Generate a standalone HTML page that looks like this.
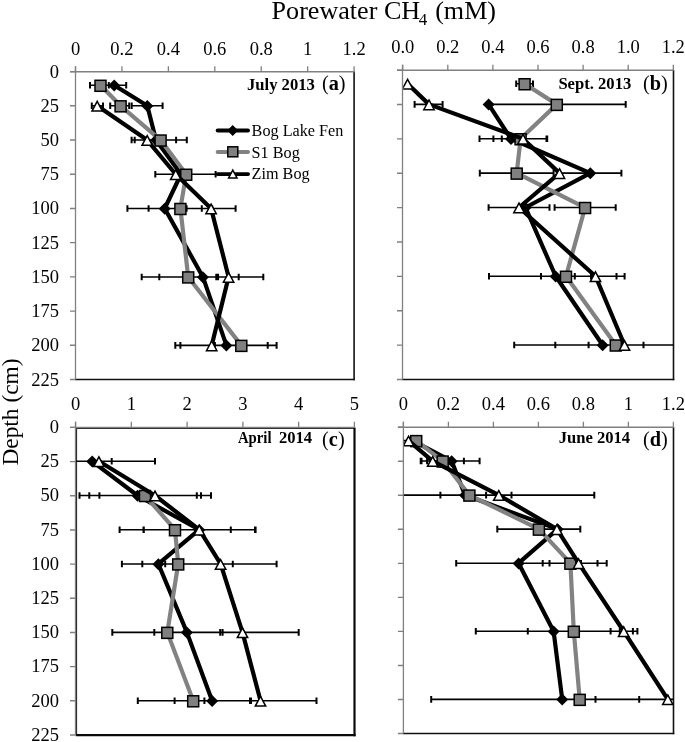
<!DOCTYPE html><html><head><meta charset="utf-8"><style>html,body{margin:0;padding:0;background:#fff;width:685px;height:742px;overflow:hidden}svg{display:block;will-change:transform}text{font-family:'Liberation Serif', serif;fill:#000}</style></head><body>
<svg width="685" height="742" viewBox="0 0 685 742">
<rect width="685" height="742" fill="#fff"/>
<defs>
<clipPath id="cla"><rect x="76" y="72.1" width="278.1" height="307.5"/></clipPath>
<clipPath id="clb"><rect x="403.2" y="70.5" width="270.1" height="308.9"/></clipPath>
<clipPath id="clc"><rect x="76.1" y="427.6" width="278.3" height="307.4"/></clipPath>
<clipPath id="cld"><rect x="403.9" y="427.5" width="269.5" height="305.9"/></clipPath>
</defs>
<text x="271.6" y="19" font-size="26.1">Porewater CH<tspan font-size="17" dy="5.5" dx="-1.3">4</tspan><tspan dy="-5.5" dx="1.3"> (mM)</tspan></text>
<text transform="translate(17.6 465.6) rotate(-90)" font-size="23.4">Depth (cm)</text>
<path d="M354.1 71.6V380.3" stroke="#111" stroke-width="1.6" fill="none"/>
<path d="M75 379.5H354.9" stroke="#111" stroke-width="1.7" fill="none"/>
<path d="M70 71.75H354.4" stroke="#808080" stroke-width="1.5" fill="none"/>
<path d="M75.5 66.25V379.6" stroke="#808080" stroke-width="1.3" fill="none"/>
<path d="M75.5 66.25V71.75M121.93 66.25V71.75M168.37 66.25V71.75M214.8 66.25V71.75M261.23 66.25V71.75M307.67 66.25V71.75M354.1 66.25V71.75" stroke="#808080" stroke-width="1.3" fill="none"/>
<path d="M70 71.6H75.5M70 105.81H75.5M70 140.02H75.5M70 174.23H75.5M70 208.44H75.5M70 242.66H75.5M70 276.87H75.5M70 311.08H75.5M70 345.29H75.5M70 379.5H75.5" stroke="#808080" stroke-width="1.4" fill="none"/>
<text x="75.5" y="54.6" font-size="18.5" text-anchor="middle">0</text>
<text x="121.93" y="54.6" font-size="18.5" text-anchor="middle">0.2</text>
<text x="168.37" y="54.6" font-size="18.5" text-anchor="middle">0.4</text>
<text x="214.8" y="54.6" font-size="18.5" text-anchor="middle">0.6</text>
<text x="261.23" y="54.6" font-size="18.5" text-anchor="middle">0.8</text>
<text x="307.67" y="54.6" font-size="18.5" text-anchor="middle">1</text>
<text x="354.1" y="54.6" font-size="18.5" text-anchor="middle">1.2</text>
<text x="59.1" y="77.5" font-size="18.5" text-anchor="end">0</text>
<text x="59.1" y="111.72" font-size="18.5" text-anchor="end">25</text>
<text x="59.1" y="145.94" font-size="18.5" text-anchor="end">50</text>
<text x="59.1" y="180.17" font-size="18.5" text-anchor="end">75</text>
<text x="59.1" y="214.39" font-size="18.5" text-anchor="end">100</text>
<text x="59.1" y="248.61" font-size="18.5" text-anchor="end">125</text>
<text x="59.1" y="282.83" font-size="18.5" text-anchor="end">150</text>
<text x="59.1" y="317.06" font-size="18.5" text-anchor="end">175</text>
<text x="59.1" y="351.28" font-size="18.5" text-anchor="end">200</text>
<text x="59.1" y="385.5" font-size="18.5" text-anchor="end">225</text>
<text x="247" y="90" font-size="16.6" font-weight="bold">July 2013</text>
<text x="321.9" y="89.6" font-size="20.3">(<tspan font-weight="bold">a</tspan>)</text>
<g clip-path="url(#cla)">
<path d="M102 85.29H126.2M131.7 105.82H162.6M131.6 140.04H176.1M127.4 208.49H201.8M141.7 276.93H263.3M175.3 345.38H276.6M90 85.29H108.8M110.2 105.82H129.2M134.7 140.04H186.8M155.3 174.27H215.6M148.6 208.49H212.2M159.3 276.93H218.1M214.9 345.38H267.7M91.8 105.82H103M186.6 208.49H235.6M216.3 276.93H238.7M180.4 345.38H243" stroke="#000" stroke-width="1.6" fill="none"/>
<path d="M102 81.99V88.59M126.2 81.99V88.59M131.7 102.52V109.12M162.6 102.52V109.12M131.6 136.74V143.34M176.1 136.74V143.34M127.4 205.19V211.79M201.8 205.19V211.79M141.7 273.63V280.23M263.3 273.63V280.23M175.3 342.08V348.68M276.6 342.08V348.68M90 81.99V88.59M108.8 81.99V88.59M110.2 102.52V109.12M129.2 102.52V109.12M134.7 136.74V143.34M186.8 136.74V143.34M155.3 170.97V177.57M215.6 170.97V177.57M148.6 205.19V211.79M212.2 205.19V211.79M159.3 273.63V280.23M218.1 273.63V280.23M214.9 342.08V348.68M267.7 342.08V348.68M91.8 102.52V109.12M103 102.52V109.12M186.6 205.19V211.79M235.6 205.19V211.79M216.3 273.63V280.23M238.7 273.63V280.23M180.4 342.08V348.68M243 342.08V348.68" stroke="#000" stroke-width="2.0" fill="none"/>
<polyline points="114.2,85.29 147.3,105.82 156,140.04 181,174.27 164.7,208.49 202.9,276.93 226.4,345.38" fill="none" stroke="#000" stroke-width="4.2" stroke-linejoin="round"/>
<path d="M114.2 79.49L120.2 85.49L114.2 91.49L108.2 85.49Z" fill="#000"/>
<path d="M147.3 100.02L153.3 106.02L147.3 112.02L141.3 106.02Z" fill="#000"/>
<path d="M156 134.24L162 140.24L156 146.24L150 140.24Z" fill="#000"/>
<path d="M181 168.47L187 174.47L181 180.47L175 174.47Z" fill="#000"/>
<path d="M164.7 202.69L170.7 208.69L164.7 214.69L158.7 208.69Z" fill="#000"/>
<path d="M202.9 271.13L208.9 277.13L202.9 283.13L196.9 277.13Z" fill="#000"/>
<path d="M226.4 339.58L232.4 345.58L226.4 351.58L220.4 345.58Z" fill="#000"/>
<polyline points="100.5,85.29 120.6,105.82 160.6,140.04 186.2,174.27 180.4,208.49 188.2,276.93 241.3,345.38" fill="none" stroke="#828282" stroke-width="4.2" stroke-linejoin="round"/>
<rect x="95" y="80.29" width="11" height="11" fill="#808080" stroke="#000" stroke-width="1.5"/>
<rect x="115.1" y="100.82" width="11" height="11" fill="#808080" stroke="#000" stroke-width="1.5"/>
<rect x="155.1" y="135.04" width="11" height="11" fill="#808080" stroke="#000" stroke-width="1.5"/>
<rect x="180.7" y="169.27" width="11" height="11" fill="#808080" stroke="#000" stroke-width="1.5"/>
<rect x="174.9" y="203.49" width="11" height="11" fill="#808080" stroke="#000" stroke-width="1.5"/>
<rect x="182.7" y="271.93" width="11" height="11" fill="#808080" stroke="#000" stroke-width="1.5"/>
<rect x="235.8" y="340.38" width="11" height="11" fill="#808080" stroke="#000" stroke-width="1.5"/>
<polyline points="97.2,105.82 147.2,140.04 175.7,174.27 211.1,208.49 228.6,276.93 211.7,345.38" fill="none" stroke="#000" stroke-width="4.2" stroke-linejoin="round"/>
<path d="M97.2 101.42L102.4 111.07L92 111.07Z" fill="#fff" stroke="#000" stroke-width="1.5" stroke-linejoin="miter" stroke-miterlimit="10"/>
<path d="M147.2 135.64L152.4 145.29L142 145.29Z" fill="#fff" stroke="#000" stroke-width="1.5" stroke-linejoin="miter" stroke-miterlimit="10"/>
<path d="M175.7 169.87L180.9 179.52L170.5 179.52Z" fill="#fff" stroke="#000" stroke-width="1.5" stroke-linejoin="miter" stroke-miterlimit="10"/>
<path d="M211.1 204.09L216.3 213.74L205.9 213.74Z" fill="#fff" stroke="#000" stroke-width="1.5" stroke-linejoin="miter" stroke-miterlimit="10"/>
<path d="M228.6 272.53L233.8 282.18L223.4 282.18Z" fill="#fff" stroke="#000" stroke-width="1.5" stroke-linejoin="miter" stroke-miterlimit="10"/>
<path d="M211.7 340.98L216.9 350.63L206.5 350.63Z" fill="#fff" stroke="#000" stroke-width="1.5" stroke-linejoin="miter" stroke-miterlimit="10"/>
</g>
<path d="M673.5 70V380.3" stroke="#111" stroke-width="1.6" fill="none"/>
<path d="M402 379.5H674.3" stroke="#111" stroke-width="1.7" fill="none"/>
<path d="M397 70.25H673.6" stroke="#808080" stroke-width="1.5" fill="none"/>
<path d="M402.5 64.75V379.4" stroke="#808080" stroke-width="1.3" fill="none"/>
<path d="M402.7 64.75V70.25M447.8 64.75V70.25M492.9 64.75V70.25M538 64.75V70.25M583.1 64.75V70.25M628.2 64.75V70.25M673.3 64.75V70.25" stroke="#808080" stroke-width="1.3" fill="none"/>
<path d="M397 70.1H402.5M397 104.48H402.5M397 138.86H402.5M397 173.23H402.5M397 207.61H402.5M397 241.99H402.5M397 276.37H402.5M397 310.74H402.5M397 345.12H402.5M397 379.5H402.5" stroke="#808080" stroke-width="1.4" fill="none"/>
<text x="402.7" y="53.3" font-size="18.5" text-anchor="middle">0.0</text>
<text x="447.8" y="53.3" font-size="18.5" text-anchor="middle">0.2</text>
<text x="492.9" y="53.3" font-size="18.5" text-anchor="middle">0.4</text>
<text x="538" y="53.3" font-size="18.5" text-anchor="middle">0.6</text>
<text x="583.1" y="53.3" font-size="18.5" text-anchor="middle">0.8</text>
<text x="628.2" y="53.3" font-size="18.5" text-anchor="middle">1.0</text>
<text x="673.3" y="53.3" font-size="18.5" text-anchor="middle">1.2</text>
<text x="558.4" y="88.5" font-size="16.6" font-weight="bold">Sept. 2013</text>
<text x="642.9" y="89.7" font-size="20.3">(<tspan font-weight="bold">b</tspan>)</text>
<g clip-path="url(#clb)">
<path d="M479.5 138.76H546.5M559.2 173.13H621.4M489 276.27H624.6M514.2 345.02H691M516.2 83.75H533M487.9 104.38H625.7M493.4 138.76H547.2M479.8 173.13H553.6M554.6 207.51H615.7M541 276.27H591M588.6 345.02H643.5M414.6 104.38H442.6M501.8 138.76H547M488.6 207.51H549.5M574.8 276.27H616.5M555.3 345.02H693.7" stroke="#000" stroke-width="1.6" fill="none"/>
<path d="M479.5 135.46V142.06M546.5 135.46V142.06M559.2 169.83V176.43M621.4 169.83V176.43M489 272.97V279.57M624.6 272.97V279.57M514.2 341.72V348.32M691 341.72V348.32M516.2 80.45V87.05M533 80.45V87.05M487.9 101.08V107.68M625.7 101.08V107.68M493.4 135.46V142.06M547.2 135.46V142.06M479.8 169.83V176.43M553.6 169.83V176.43M554.6 204.21V210.81M615.7 204.21V210.81M541 272.97V279.57M591 272.97V279.57M588.6 341.72V348.32M643.5 341.72V348.32M414.6 101.08V107.68M442.6 101.08V107.68M501.8 135.46V142.06M547 135.46V142.06M488.6 204.21V210.81M549.5 204.21V210.81M574.8 272.97V279.57M616.5 272.97V279.57M555.3 341.72V348.32M693.7 341.72V348.32" stroke="#000" stroke-width="2.0" fill="none"/>
<polyline points="488.6,104.38 511,138.76 590.3,173.13 525.5,207.51 555.7,276.27 602.6,345.02" fill="none" stroke="#000" stroke-width="4.2" stroke-linejoin="round"/>
<path d="M488.6 98.58L494.6 104.58L488.6 110.58L482.6 104.58Z" fill="#000"/>
<path d="M511 132.96L517 138.96L511 144.96L505 138.96Z" fill="#000"/>
<path d="M590.3 167.33L596.3 173.33L590.3 179.33L584.3 173.33Z" fill="#000"/>
<path d="M525.5 201.71L531.5 207.71L525.5 213.71L519.5 207.71Z" fill="#000"/>
<path d="M555.7 270.47L561.7 276.47L555.7 282.47L549.7 276.47Z" fill="#000"/>
<path d="M602.6 339.22L608.6 345.22L602.6 351.22L596.6 345.22Z" fill="#000"/>
<polyline points="524.6,83.75 556.8,104.38 520.6,138.76 516.7,173.13 585.1,207.51 566,276.27 615.8,345.02" fill="none" stroke="#828282" stroke-width="4.2" stroke-linejoin="round"/>
<rect x="519.1" y="78.75" width="11" height="11" fill="#808080" stroke="#000" stroke-width="1.5"/>
<rect x="551.3" y="99.38" width="11" height="11" fill="#808080" stroke="#000" stroke-width="1.5"/>
<rect x="515.1" y="133.76" width="11" height="11" fill="#808080" stroke="#000" stroke-width="1.5"/>
<rect x="511.2" y="168.13" width="11" height="11" fill="#808080" stroke="#000" stroke-width="1.5"/>
<rect x="579.6" y="202.51" width="11" height="11" fill="#808080" stroke="#000" stroke-width="1.5"/>
<rect x="560.5" y="271.27" width="11" height="11" fill="#808080" stroke="#000" stroke-width="1.5"/>
<rect x="610.3" y="340.02" width="11" height="11" fill="#808080" stroke="#000" stroke-width="1.5"/>
<polyline points="407.6,83.75 429,104.38 523,138.76 559.5,173.13 519,207.51 595.5,276.27 624.5,345.02" fill="none" stroke="#000" stroke-width="4.2" stroke-linejoin="round"/>
<path d="M407.6 79.35L412.8 89L402.4 89Z" fill="#fff" stroke="#000" stroke-width="1.5" stroke-linejoin="miter" stroke-miterlimit="10"/>
<path d="M429 99.98L434.2 109.63L423.8 109.63Z" fill="#fff" stroke="#000" stroke-width="1.5" stroke-linejoin="miter" stroke-miterlimit="10"/>
<path d="M523 134.36L528.2 144.01L517.8 144.01Z" fill="#fff" stroke="#000" stroke-width="1.5" stroke-linejoin="miter" stroke-miterlimit="10"/>
<path d="M559.5 168.73L564.7 178.38L554.3 178.38Z" fill="#fff" stroke="#000" stroke-width="1.5" stroke-linejoin="miter" stroke-miterlimit="10"/>
<path d="M519 203.11L524.2 212.76L513.8 212.76Z" fill="#fff" stroke="#000" stroke-width="1.5" stroke-linejoin="miter" stroke-miterlimit="10"/>
<path d="M595.5 271.87L600.7 281.52L590.3 281.52Z" fill="#fff" stroke="#000" stroke-width="1.5" stroke-linejoin="miter" stroke-miterlimit="10"/>
<path d="M624.5 340.62L629.7 350.27L619.3 350.27Z" fill="#fff" stroke="#000" stroke-width="1.5" stroke-linejoin="miter" stroke-miterlimit="10"/>
</g>
<path d="M76.5 427.5V736" stroke="#222" stroke-width="1.2" fill="none"/>
<path d="M76 428.5H355" stroke="#333" stroke-width="1.1" fill="none"/>
<path d="M354.5 427.5V736.3" stroke="#0a0a0a" stroke-width="2.2" fill="none"/>
<path d="M75.8 735.2H355.6" stroke="#0a0a0a" stroke-width="2.2" fill="none"/>
<path d="M70 427.3H354.7" stroke="#808080" stroke-width="1.3" fill="none"/>
<path d="M75.5 421.8V735" stroke="#808080" stroke-width="1.3" fill="none"/>
<path d="M75.6 421.8V427.3M131.36 421.8V427.3M187.12 421.8V427.3M242.88 421.8V427.3M298.64 421.8V427.3M354.4 421.8V427.3" stroke="#808080" stroke-width="1.3" fill="none"/>
<path d="M70 427.4H75.5M70 461.58H75.5M70 495.76H75.5M70 529.93H75.5M70 564.11H75.5M70 598.29H75.5M70 632.47H75.5M70 666.64H75.5M70 700.82H75.5M70 735H75.5" stroke="#808080" stroke-width="1.4" fill="none"/>
<text x="75.6" y="410.4" font-size="18.5" text-anchor="middle">0</text>
<text x="131.36" y="410.4" font-size="18.5" text-anchor="middle">1</text>
<text x="187.12" y="410.4" font-size="18.5" text-anchor="middle">2</text>
<text x="242.88" y="410.4" font-size="18.5" text-anchor="middle">3</text>
<text x="298.64" y="410.4" font-size="18.5" text-anchor="middle">4</text>
<text x="354.4" y="410.4" font-size="18.5" text-anchor="middle">5</text>
<text x="59.1" y="433" font-size="18.5" text-anchor="end">0</text>
<text x="59.1" y="467.21" font-size="18.5" text-anchor="end">25</text>
<text x="59.1" y="501.42" font-size="18.5" text-anchor="end">50</text>
<text x="59.1" y="535.63" font-size="18.5" text-anchor="end">75</text>
<text x="59.1" y="569.84" font-size="18.5" text-anchor="end">100</text>
<text x="59.1" y="604.06" font-size="18.5" text-anchor="end">125</text>
<text x="59.1" y="638.27" font-size="18.5" text-anchor="end">150</text>
<text x="59.1" y="672.48" font-size="18.5" text-anchor="end">175</text>
<text x="59.1" y="706.69" font-size="18.5" text-anchor="end">200</text>
<text x="59.1" y="740.9" font-size="18.5" text-anchor="end">225</text>
<text x="237.9" y="443.4" font-size="16.6" font-weight="bold" textLength="33.6" lengthAdjust="spacingAndGlyphs">April</text>
<text x="278.9" y="443.4" font-size="16.6" font-weight="bold">2014</text>
<text x="322.1" y="445.9" font-size="20.3">(<tspan font-weight="bold">c</tspan>)</text>
<g clip-path="url(#clc)">
<path d="M20 461.31H155M79.5 495.52H196.8M143.8 529.73H255.6M142.3 563.94H174.5M154.3 632.37H220.2M174.6 700.79H251M89.3 495.52H201M119.6 529.73H230.8M121.9 563.94H232.8M112.3 632.37H222.6M137.8 700.79H250M94 461.31H111.7M99.4 495.52H211M143.5 529.73H255M165.2 563.94H276.6M185.1 632.37H298.7M204.4 700.79H316.5" stroke="#000" stroke-width="1.6" fill="none"/>
<path d="M20 458.01V464.61M155 458.01V464.61M79.5 492.22V498.82M196.8 492.22V498.82M143.8 526.43V533.03M255.6 526.43V533.03M142.3 560.64V567.24M174.5 560.64V567.24M154.3 629.07V635.67M220.2 629.07V635.67M174.6 697.49V704.09M251 697.49V704.09M89.3 492.22V498.82M201 492.22V498.82M119.6 526.43V533.03M230.8 526.43V533.03M121.9 560.64V567.24M232.8 560.64V567.24M112.3 629.07V635.67M222.6 629.07V635.67M137.8 697.49V704.09M250 697.49V704.09M94 458.01V464.61M111.7 458.01V464.61M99.4 492.22V498.82M211 492.22V498.82M143.5 526.43V533.03M255 526.43V533.03M165.2 560.64V567.24M276.6 560.64V567.24M185.1 629.07V635.67M298.7 629.07V635.67M204.4 697.49V704.09M316.5 697.49V704.09" stroke="#000" stroke-width="2.0" fill="none"/>
<polyline points="92.2,461.31 137.5,495.52 199.3,529.73 158.4,563.94 186.9,632.37 212.1,700.79" fill="none" stroke="#000" stroke-width="4.2" stroke-linejoin="round"/>
<path d="M92.2 455.51L98.2 461.51L92.2 467.51L86.2 461.51Z" fill="#000"/>
<path d="M137.5 489.72L143.5 495.72L137.5 501.72L131.5 495.72Z" fill="#000"/>
<path d="M199.3 523.93L205.3 529.93L199.3 535.93L193.3 529.93Z" fill="#000"/>
<path d="M158.4 558.14L164.4 564.14L158.4 570.14L152.4 564.14Z" fill="#000"/>
<path d="M186.9 626.57L192.9 632.57L186.9 638.57L180.9 632.57Z" fill="#000"/>
<path d="M212.1 694.99L218.1 700.99L212.1 706.99L206.1 700.99Z" fill="#000"/>
<polyline points="145,495.52 175,529.73 178.2,563.94 167.3,632.37 193.2,700.79" fill="none" stroke="#828282" stroke-width="4.2" stroke-linejoin="round"/>
<rect x="139.5" y="490.52" width="11" height="11" fill="#808080" stroke="#000" stroke-width="1.5"/>
<rect x="169.5" y="524.73" width="11" height="11" fill="#808080" stroke="#000" stroke-width="1.5"/>
<rect x="172.7" y="558.94" width="11" height="11" fill="#808080" stroke="#000" stroke-width="1.5"/>
<rect x="161.8" y="627.37" width="11" height="11" fill="#808080" stroke="#000" stroke-width="1.5"/>
<rect x="187.7" y="695.79" width="11" height="11" fill="#808080" stroke="#000" stroke-width="1.5"/>
<polyline points="98.9,461.31 155,495.52 199.3,529.73 220.6,563.94 242.5,632.37 260.5,700.79" fill="none" stroke="#000" stroke-width="4.2" stroke-linejoin="round"/>
<path d="M98.9 456.91L104.1 466.56L93.7 466.56Z" fill="#fff" stroke="#000" stroke-width="1.5" stroke-linejoin="miter" stroke-miterlimit="10"/>
<path d="M155 491.12L160.2 500.77L149.8 500.77Z" fill="#fff" stroke="#000" stroke-width="1.5" stroke-linejoin="miter" stroke-miterlimit="10"/>
<path d="M199.3 525.33L204.5 534.98L194.1 534.98Z" fill="#fff" stroke="#000" stroke-width="1.5" stroke-linejoin="miter" stroke-miterlimit="10"/>
<path d="M220.6 559.54L225.8 569.19L215.4 569.19Z" fill="#fff" stroke="#000" stroke-width="1.5" stroke-linejoin="miter" stroke-miterlimit="10"/>
<path d="M242.5 627.97L247.7 637.62L237.3 637.62Z" fill="#fff" stroke="#000" stroke-width="1.5" stroke-linejoin="miter" stroke-miterlimit="10"/>
<path d="M260.5 696.39L265.7 706.04L255.3 706.04Z" fill="#fff" stroke="#000" stroke-width="1.5" stroke-linejoin="miter" stroke-miterlimit="10"/>
</g>
<path d="M673.5 427V734.3" stroke="#111" stroke-width="1.6" fill="none"/>
<path d="M403 733.5H674.3" stroke="#111" stroke-width="1.7" fill="none"/>
<path d="M397.9 427.25H673.7" stroke="#808080" stroke-width="1.5" fill="none"/>
<path d="M403.4 421.75V733.4" stroke="#808080" stroke-width="1.3" fill="none"/>
<path d="M403.4 421.75V427.25M448.4 421.75V427.25M493.4 421.75V427.25M538.4 421.75V427.25M583.4 421.75V427.25M628.4 421.75V427.25M673.4 421.75V427.25" stroke="#808080" stroke-width="1.3" fill="none"/>
<path d="M397.9 427.2H403.4M397.9 461.23H403.4M397.9 495.27H403.4M397.9 529.3H403.4M397.9 563.33H403.4M397.9 597.37H403.4M397.9 631.4H403.4M397.9 665.43H403.4M397.9 699.47H403.4M397.9 733.5H403.4" stroke="#808080" stroke-width="1.4" fill="none"/>
<text x="403.4" y="410.4" font-size="18.5" text-anchor="middle">0</text>
<text x="448.4" y="410.4" font-size="18.5" text-anchor="middle">0.2</text>
<text x="493.4" y="410.4" font-size="18.5" text-anchor="middle">0.4</text>
<text x="538.4" y="410.4" font-size="18.5" text-anchor="middle">0.6</text>
<text x="583.4" y="410.4" font-size="18.5" text-anchor="middle">0.8</text>
<text x="628.4" y="410.4" font-size="18.5" text-anchor="middle">1</text>
<text x="673.4" y="410.4" font-size="18.5" text-anchor="middle">1.2</text>
<text x="558.7" y="443.2" font-size="16.6" font-weight="bold">June 2014</text>
<text x="642.9" y="445.8" font-size="20.3">(<tspan font-weight="bold">d</tspan>)</text>
<g clip-path="url(#cld)">
<path d="M427.1 461.04H479.6M330 495.09H594.3M456.2 563.18H581M475.8 631.27H632.9M431.2 699.36H693M421.5 461.04H463.9M440.4 495.09H498.4M497.3 529.13H580.3M542.7 563.18H597.5M527.8 631.27H619.8M563.9 699.36H595.5M403 440.62H414M420.7 461.04H444.7M486.1 495.09H511.5M549.5 563.18H606.7M610.6 631.27H637.4M639.2 699.36H696" stroke="#000" stroke-width="1.6" fill="none"/>
<path d="M427.1 457.74V464.34M479.6 457.74V464.34M330 491.79V498.39M594.3 491.79V498.39M456.2 559.88V566.48M581 559.88V566.48M475.8 627.97V634.57M632.9 627.97V634.57M431.2 696.06V702.66M693 696.06V702.66M421.5 457.74V464.34M463.9 457.74V464.34M440.4 491.79V498.39M498.4 491.79V498.39M497.3 525.83V532.43M580.3 525.83V532.43M542.7 559.88V566.48M597.5 559.88V566.48M527.8 627.97V634.57M619.8 627.97V634.57M563.9 696.06V702.66M595.5 696.06V702.66M403 437.32V443.92M414 437.32V443.92M420.7 457.74V464.34M444.7 457.74V464.34M486.1 491.79V498.39M511.5 491.79V498.39M549.5 559.88V566.48M606.7 559.88V566.48M610.6 627.97V634.57M637.4 627.97V634.57M639.2 696.06V702.66M696 696.06V702.66" stroke="#000" stroke-width="2.0" fill="none"/>
<polyline points="412.5,440.62 451.6,461.04 465,495.09 557.6,529.13 518.6,563.18 553.6,631.27 562.2,699.36" fill="none" stroke="#000" stroke-width="4.2" stroke-linejoin="round"/>
<path d="M412.5 434.82L418.5 440.82L412.5 446.82L406.5 440.82Z" fill="#000"/>
<path d="M451.6 455.24L457.6 461.24L451.6 467.24L445.6 461.24Z" fill="#000"/>
<path d="M465 489.29L471 495.29L465 501.29L459 495.29Z" fill="#000"/>
<path d="M557.6 523.33L563.6 529.33L557.6 535.33L551.6 529.33Z" fill="#000"/>
<path d="M518.6 557.38L524.6 563.38L518.6 569.38L512.6 563.38Z" fill="#000"/>
<path d="M553.6 625.47L559.6 631.47L553.6 637.47L547.6 631.47Z" fill="#000"/>
<path d="M562.2 693.56L568.2 699.56L562.2 705.56L556.2 699.56Z" fill="#000"/>
<polyline points="416.2,440.62 442.7,461.04 469.4,495.09 538.9,529.13 570.4,563.18 573.8,631.27 579.7,699.36" fill="none" stroke="#828282" stroke-width="4.2" stroke-linejoin="round"/>
<rect x="410.7" y="435.62" width="11" height="11" fill="#808080" stroke="#000" stroke-width="1.5"/>
<rect x="437.2" y="456.04" width="11" height="11" fill="#808080" stroke="#000" stroke-width="1.5"/>
<rect x="463.9" y="490.09" width="11" height="11" fill="#808080" stroke="#000" stroke-width="1.5"/>
<rect x="533.4" y="524.13" width="11" height="11" fill="#808080" stroke="#000" stroke-width="1.5"/>
<rect x="564.9" y="558.18" width="11" height="11" fill="#808080" stroke="#000" stroke-width="1.5"/>
<rect x="568.3" y="626.27" width="11" height="11" fill="#808080" stroke="#000" stroke-width="1.5"/>
<rect x="574.2" y="694.36" width="11" height="11" fill="#808080" stroke="#000" stroke-width="1.5"/>
<polyline points="408.5,440.62 432.7,461.04 498.8,495.09 556.9,529.13 578.6,563.18 623.7,631.27 667.8,699.36" fill="none" stroke="#000" stroke-width="4.2" stroke-linejoin="round"/>
<path d="M408.5 436.22L413.7 445.87L403.3 445.87Z" fill="#fff" stroke="#000" stroke-width="1.5" stroke-linejoin="miter" stroke-miterlimit="10"/>
<path d="M432.7 456.64L437.9 466.29L427.5 466.29Z" fill="#fff" stroke="#000" stroke-width="1.5" stroke-linejoin="miter" stroke-miterlimit="10"/>
<path d="M498.8 490.69L504 500.34L493.6 500.34Z" fill="#fff" stroke="#000" stroke-width="1.5" stroke-linejoin="miter" stroke-miterlimit="10"/>
<path d="M556.9 524.73L562.1 534.38L551.7 534.38Z" fill="#fff" stroke="#000" stroke-width="1.5" stroke-linejoin="miter" stroke-miterlimit="10"/>
<path d="M578.6 558.78L583.8 568.43L573.4 568.43Z" fill="#fff" stroke="#000" stroke-width="1.5" stroke-linejoin="miter" stroke-miterlimit="10"/>
<path d="M623.7 626.87L628.9 636.52L618.5 636.52Z" fill="#fff" stroke="#000" stroke-width="1.5" stroke-linejoin="miter" stroke-miterlimit="10"/>
<path d="M667.8 694.96L673 704.61L662.6 704.61Z" fill="#fff" stroke="#000" stroke-width="1.5" stroke-linejoin="miter" stroke-miterlimit="10"/>
</g>
<path d="M217.6 130.5H248.1" stroke="#000" stroke-width="3.8" stroke-linecap="round"/>
<path d="M217.6 152H248.1" stroke="#828282" stroke-width="3.8" stroke-linecap="round"/>
<path d="M217.6 174.1H248.1" stroke="#000" stroke-width="3.8" stroke-linecap="round"/>
<path d="M232.7 125L238.2 130.5L232.7 136L227.2 130.5Z" fill="#000"/>
<rect x="227.8" y="146.8" width="10" height="10" fill="#808080" stroke="#000" stroke-width="1.5"/>
<path d="M232.8 170.2L237 178L228.6 178Z" fill="#fff" stroke="#000" stroke-width="1.5" stroke-linejoin="miter" stroke-miterlimit="10"/>
<text x="251.6" y="135.9" font-size="16.2">Bog Lake Fen</text>
<text x="251.6" y="157.8" font-size="16.2">S1 Bog</text>
<text x="251.6" y="179.3" font-size="16.2">Zim Bog</text>
</svg></body></html>
